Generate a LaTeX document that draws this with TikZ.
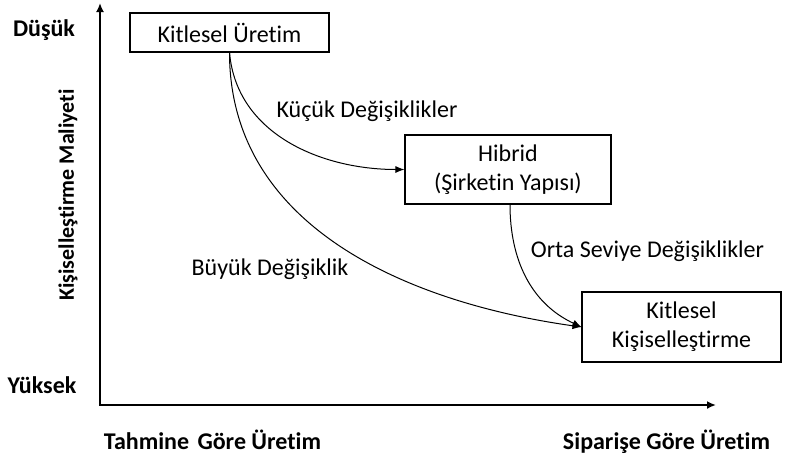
\documentclass[tikz,border=0pt]{standalone}
\usepackage{fontspec}
\setmainfont{Carlito}[Ligatures={NoCommon}]
\usetikzlibrary{arrows.meta}

\tikzset{
  kutu/.style={draw, line width=1.1pt, align=center, inner sep=2pt},
  eksen/.style={line width=1.8pt, -{Latex[length=9pt,width=8pt]}},
  gecis/.style={line width=1pt, -{Latex[length=9pt,width=7pt]}},
  baslik/.style={font=\fontsize{24}{28}\selectfont\bfseries, anchor=base, inner sep=0pt},
  etiket/.style={anchor=base, inner sep=0pt}
}

\begin{document}
\begin{tikzpicture}[x=1pt,y=-1pt,font=\fontsize{24}{29}\selectfont]
\useasboundingbox (0,0) rectangle (787,459);

\coordinate (orig) at (100,405);
\coordinate (ytop) at (100,3);
\coordinate (xend) at (716,405);
\draw[eksen] (orig) -- (ytop);
\draw[eksen] ([xshift=-0.9pt]orig) -- (xend);

\node[baslik] (dusuk) at (44,36) {Düşük};
\node[baslik] (yuksek) at (42,393) {Yüksek};
\node[baslik, font=\fontsize{22}{26}\selectfont\bfseries, rotate=90, anchor=center] (maliyet) at (68,195) {Kişiselleştirme Maliyeti};
\node[baslik] (tahmin) at (212.5,449) {Tahmine\hspace{3pt} Göre Üretim};
\node[baslik] (siparis) at (666.5,449) {Siparişe Göre Üretim};

\node[kutu, minimum width=199pt, minimum height=39pt] (kitle) at (229.5,32.5) {Kitlesel Üretim};
\node[kutu, minimum width=206pt, minimum height=69pt] (hibrid) at (508,169.5) {Hibrid\\(Şirketin Yapısı)};
\node[kutu, minimum width=199pt, minimum height=70pt] (kisi) at (681.5,327) {Kitlesel\\Kişiselleştirme};

\draw[gecis] (kitle.south) to[out=-85,in=180] (hibrid.west);
\draw[gecis] (kitle.south) to[out=-90,in=172] (kisi.west);
\draw[gecis] ([xshift=2pt]hibrid.south) to[out=-90,in=155] (kisi.west);

\node[etiket] (kucuk) at (367,117) {Küçük Değişiklikler};
\node[etiket] (buyuk) at (270,275) {Büyük Değişiklik};
\node[etiket] (orta) at (647.5,257) {Orta Seviye Değişiklikler};
\end{tikzpicture}
\end{document}
